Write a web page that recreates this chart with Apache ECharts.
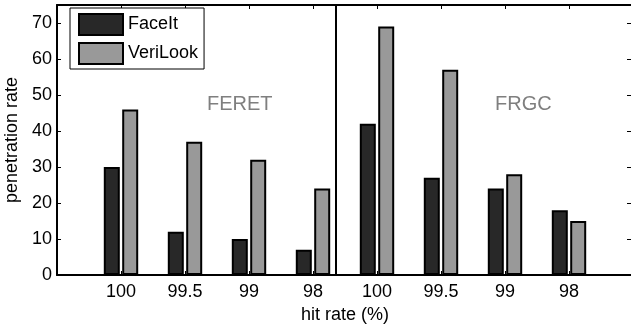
<!DOCTYPE html>
<html>
<head>
<meta charset="utf-8">
<script src="https://cdn.jsdelivr.net/npm/echarts@6/dist/echarts.min.js"></script>
<style>
  html, body { margin: 0; padding: 0; background: #fff; }
  #chart { width: 631px; height: 328px; }
</style>
</head>
<body>
<div id="chart"></div>
<script>
// hit rate groups, FERET first then FRGC
const hitRates = ['100', '99.5', '99', '98']
const feretPos = [1, 2, 3, 4]
const frgcPos = [5, 6, 7, 8]
const dividerPos = 4.5

const faceItFeret = [30, 12, 10, 7]
const faceItFrgc = [42, 27, 24, 18]
const veriLookFeret = [46, 37, 32, 24]
const veriLookFrgc = [69, 57, 28, 15]

const datasetNames = ['FERET', 'FRGC']
const datasetLabelPos = [[3.0, 47.4], [7.43, 47.4]]

const font = '"Liberation Sans", Arial, sans-serif'

// position -> tick label
const tickLabels = {}
feretPos.forEach((p, i) => { tickLabels[p] = hitRates[i] })
frgcPos.forEach((p, i) => { tickLabels[p] = hitRates[i] })

function pairs(pos, vals) {
  return pos.map((p, i) => [p, vals[i]])
}

const chart = echarts.init(document.getElementById('chart'))

const frameLine = { onZero: false, lineStyle: { color: '#000', width: 2 } }
const frameTick = { show: true, inside: true, length: 4, lineStyle: { color: '#000' } }

chart.setOption({
  animation: false,
  backgroundColor: '#fff',
  textStyle: { fontFamily: font },
  grid: { left: 57, right: -2, top: 5, bottom: 53, outerBoundsMode: 'none', containLabel: false },
  legend: {
    orient: 'vertical',
    left: 70,
    top: 8,
    data: ['FaceIt', 'VeriLook'],
    icon: 'rect',
    itemWidth: 44,
    itemHeight: 21,
    itemGap: 6,
    padding: [5, 6, 4, 8],
    borderColor: '#000',
    borderWidth: 1,
    backgroundColor: '#fff',
    textStyle: { fontSize: 18, color: '#000', fontFamily: font }
  },
  xAxis: [{
    type: 'value',
    min: 0,
    max: 9,
    interval: 1,
    name: 'hit rate (%)',
    nameLocation: 'middle',
    nameGap: 29,
    nameTextStyle: { fontSize: 18, color: '#000' },
    axisLine: frameLine,
    axisTick: frameTick,
    axisLabel: {
      fontSize: 18, color: '#000', margin: 8,
      formatter: v => tickLabels[v] || ''
    },
    splitLine: { show: false }
  }, {
    type: 'value',
    position: 'top',
    min: 0,
    max: 9,
    interval: 1,
    axisLine: frameLine,
    axisTick: frameTick,
    axisLabel: { show: false },
    splitLine: { show: false }
  }],
  yAxis: [{
    type: 'value',
    min: 0,
    max: 75,
    interval: 10,
    name: 'penetration rate',
    nameLocation: 'middle',
    nameGap: 31,
    nameTextStyle: { fontSize: 18, color: '#000' },
    axisLine: Object.assign({ show: true }, frameLine),
    axisTick: frameTick,
    axisLabel: { fontSize: 18, color: '#000', margin: 5, showMaxLabel: false },
    splitLine: { show: false }
  }, {
    type: 'value',
    position: 'right',
    min: 0,
    max: 75,
    interval: 10,
    axisLine: Object.assign({ show: true }, frameLine),
    axisTick: { show: true, inside: true, length: 6, lineStyle: { color: '#000' } },
    axisLabel: { show: false },
    splitLine: { show: false }
  }],
  series: [{
    name: 'FaceIt',
    type: 'bar',
    barWidth: 16,
    barGap: '15%',
    data: pairs(feretPos, faceItFeret).concat(pairs(frgcPos, faceItFrgc)),
    itemStyle: { color: '#282828', borderColor: '#000', borderWidth: 2 },
    markLine: {
      silent: true,
      symbol: 'none',
      label: { show: false },
      lineStyle: { color: '#000', width: 2, type: 'solid' },
      data: [{ xAxis: dividerPos }]
    },
    markPoint: {
      silent: true,
      symbol: 'rect',
      symbolSize: 0,
      label: { show: true, fontSize: 20, color: '#7f7f7f', fontFamily: font, formatter: p => p.name },
      data: datasetNames.map((n, i) => ({ name: n, coord: datasetLabelPos[i] }))
    }
  }, {
    name: 'VeriLook',
    type: 'bar',
    barWidth: 16,
    barGap: '15%',
    data: pairs(feretPos, veriLookFeret).concat(pairs(frgcPos, veriLookFrgc)),
    itemStyle: { color: '#999999', borderColor: '#000', borderWidth: 2 }
  }]
})
</script>
</body>
</html>
